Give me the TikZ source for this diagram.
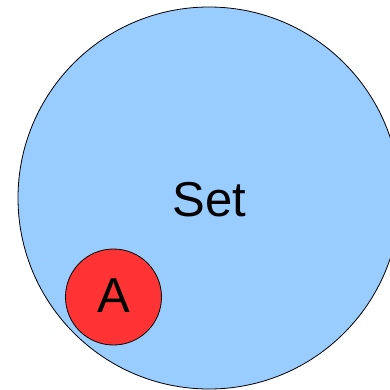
\documentclass[tikz,border=0pt]{standalone}
\usepackage{fontspec}
\setmainfont{Liberation Sans}
\definecolor{setblue}{HTML}{99CCFF}
\definecolor{ared}{HTML}{FF3333}
\tikzset{
  setcircle/.style={circle, draw=black, line width=0.8pt, inner sep=0pt},
  lbl/.style={font=\fontsize{49}{49}\selectfont, inner sep=0pt, anchor=center}
}
\begin{document}
\begin{tikzpicture}[x=1pt,y=-1pt]
\useasboundingbox (0,0) rectangle (390,390);
\begin{scope}
\clip (0,0) rectangle (390,390);
\node[setcircle, fill=setblue, minimum size=382pt] (set) at (209,198) {};
\node[setcircle, fill=ared, minimum size=96pt] (a) at (113.5,297) {};
\end{scope}
\node[lbl] (setlbl) at (209.5,200) {\vphantom{S}Set};
\node[lbl] (albl) at (113.5,296) {\vphantom{S}A};
\end{tikzpicture}
\end{document}
